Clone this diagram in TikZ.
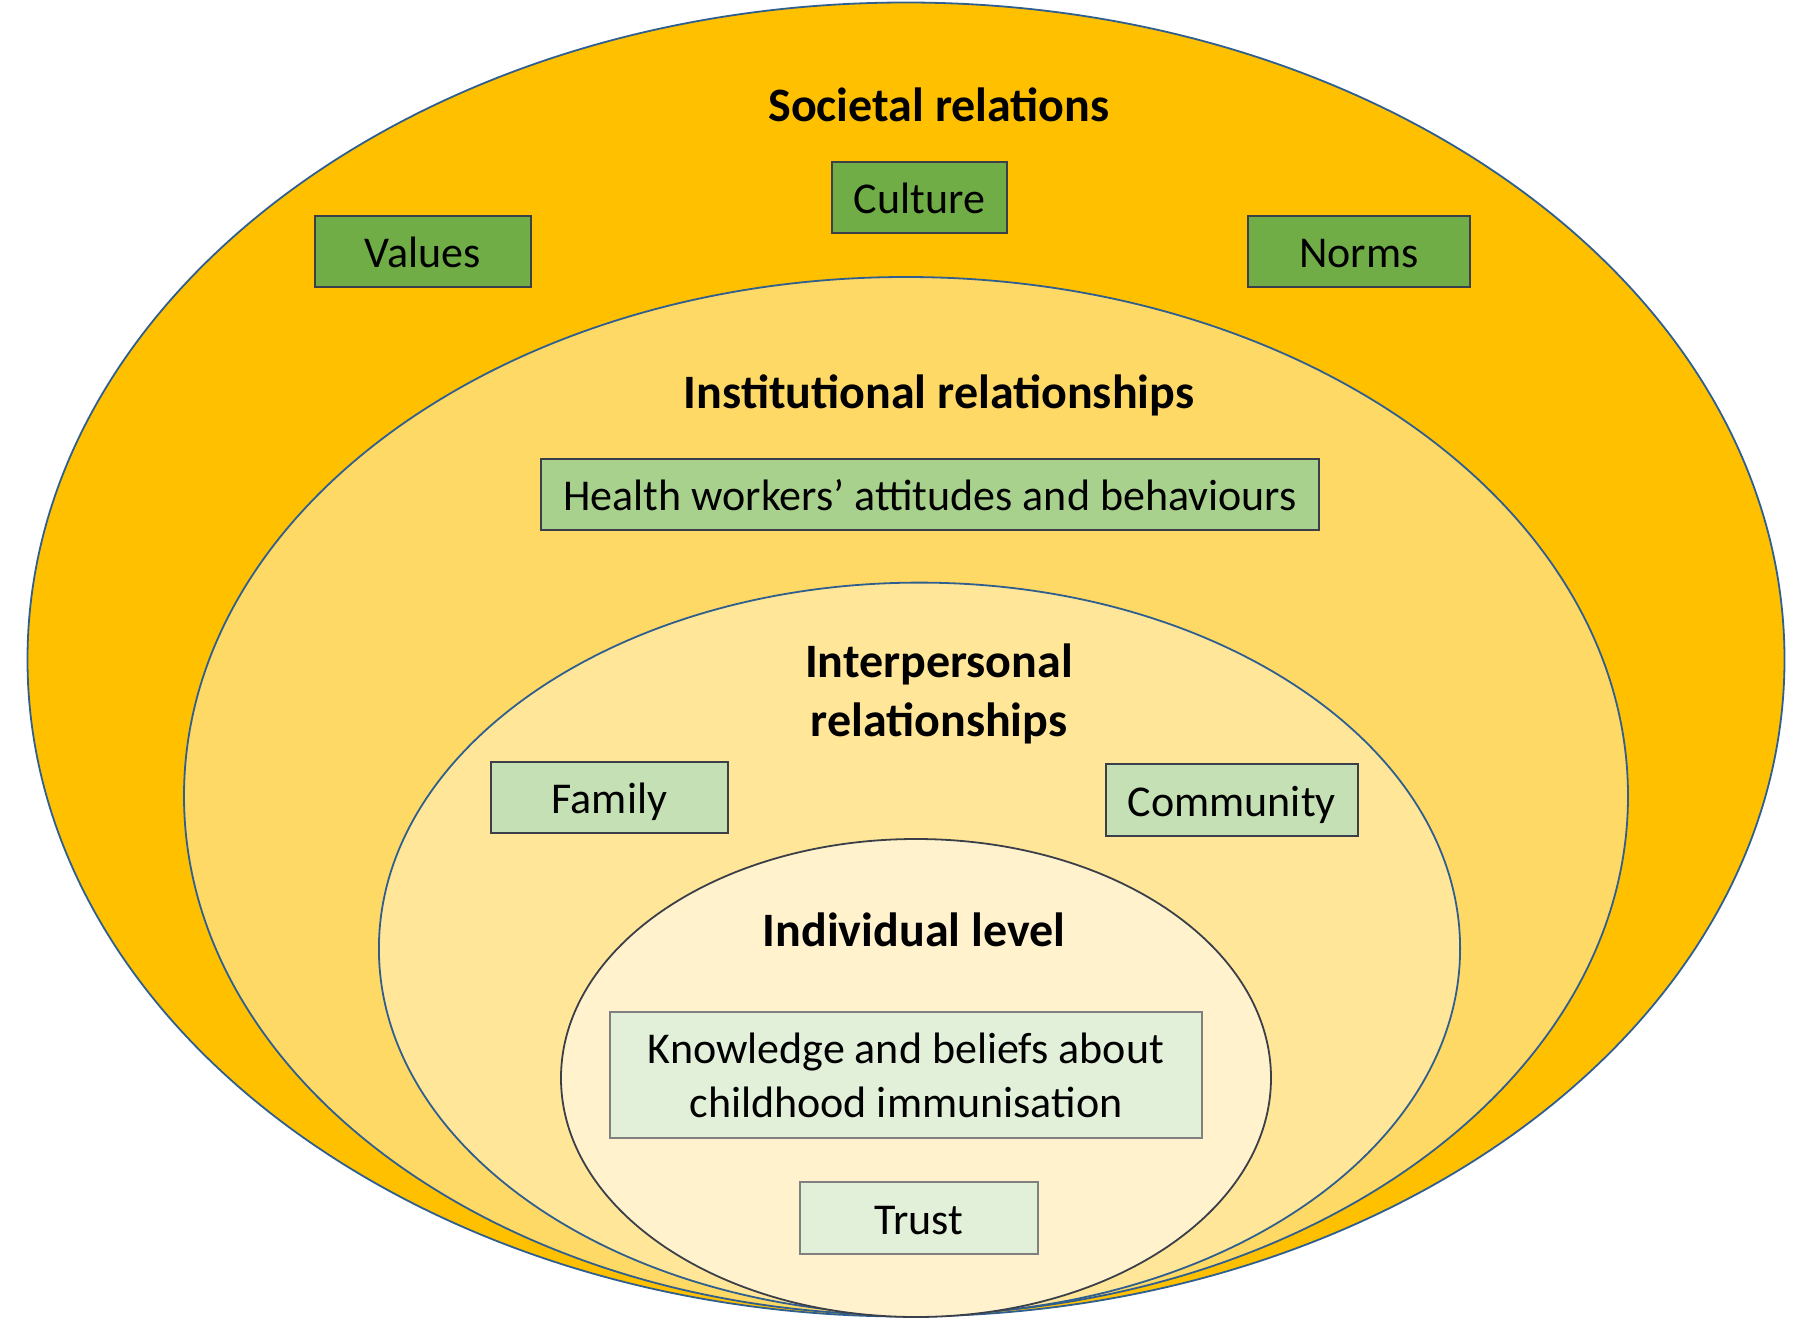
\documentclass[tikz,border=0pt]{standalone}
\usepackage{fontspec}
\setmainfont{Carlito}
\definecolor{lvA}{HTML}{FFC000}
\definecolor{lvB}{HTML}{FFD966}
\definecolor{lvC}{HTML}{FFE699}
\definecolor{lvD}{HTML}{FFF2CC}
\definecolor{bxA}{HTML}{70AD47}
\definecolor{bxB}{HTML}{A9D18E}
\definecolor{bxC}{HTML}{C5E0B4}
\definecolor{bxD}{HTML}{E2F0D9}
\definecolor{edgeblue}{HTML}{2F5F8F}
\definecolor{edgedark}{HTML}{3A3F4A}
\tikzset{
  ring/.style={draw=edgeblue, line width=1.8pt},
  lbox/.style={draw=#1, line width=2pt, inner sep=0pt, align=center,
     text height=32pt, text depth=0pt,
     font=\fontsize{44}{54}\selectfont},
  heading/.style={font=\fontsize{48}{59}\bfseries\selectfont, align=center, inner sep=0pt},
}
\begin{document}
\begin{tikzpicture}[x=1pt,y=-1pt]
\useasboundingbox (0,0) rectangle (1800,1322);
\fill[white] (0,0) rectangle (1800,1322);
% rings
\draw[ring, fill=lvA] (906,659.5) ellipse [x radius=878.5, y radius=657];
\draw[ring, fill=lvB] (906,796) ellipse [x radius=722, y radius=519];
\draw[ring, fill=lvC] (919.5,948.6) ellipse [x radius=540.6, y radius=366];
\draw[ring, draw=edgedark, fill=lvD] (916,1078) ellipse [x radius=355, y radius=239];
% headings
\node[heading] (soc) at (939,104.5) {Societal relations};
\node[heading] (inst) at (939,395) {Institutional relationships};
\node[heading] (inter) at (939,694) {Interpersonal\\relationships};
\node[heading] (indiv) at (914,930) {Individual level};
% boxes
\node[lbox=edgedark, fill=bxA, minimum width=216pt, minimum height=71pt] (values) at (422.5,251.4) {Values};
\node[lbox=edgedark, fill=bxA, minimum width=175pt, minimum height=71pt] (culture) at (919.5,197.5) {Culture};
\node[lbox=edgedark, fill=bxA, minimum width=221.5pt, minimum height=71pt] (norms) at (1358.8,251.5) {Norms};
\node[lbox=edgedark, fill=bxB, minimum width=778pt, minimum height=71pt] (health) at (930,494.5) {Health workers’ attitudes and behaviours};
\node[lbox=edgedark, fill=bxC, minimum width=237pt, minimum height=71pt] (family) at (609.5,797.5) {Family};
\node[lbox=edgedark, fill=bxC, minimum width=252.5pt, minimum height=71.5pt] (community) at (1231.8,800) {Community};
\node[lbox=gray, fill=bxD, minimum width=592pt, minimum height=125.6pt, text height=, text depth=] (know) at (906,1075) {Knowledge and beliefs about\\childhood immunisation};
\node[lbox=gray, fill=bxD, minimum width=238pt, minimum height=71.6pt] (trust) at (919,1218) {Trust};
\end{tikzpicture}
\end{document}
